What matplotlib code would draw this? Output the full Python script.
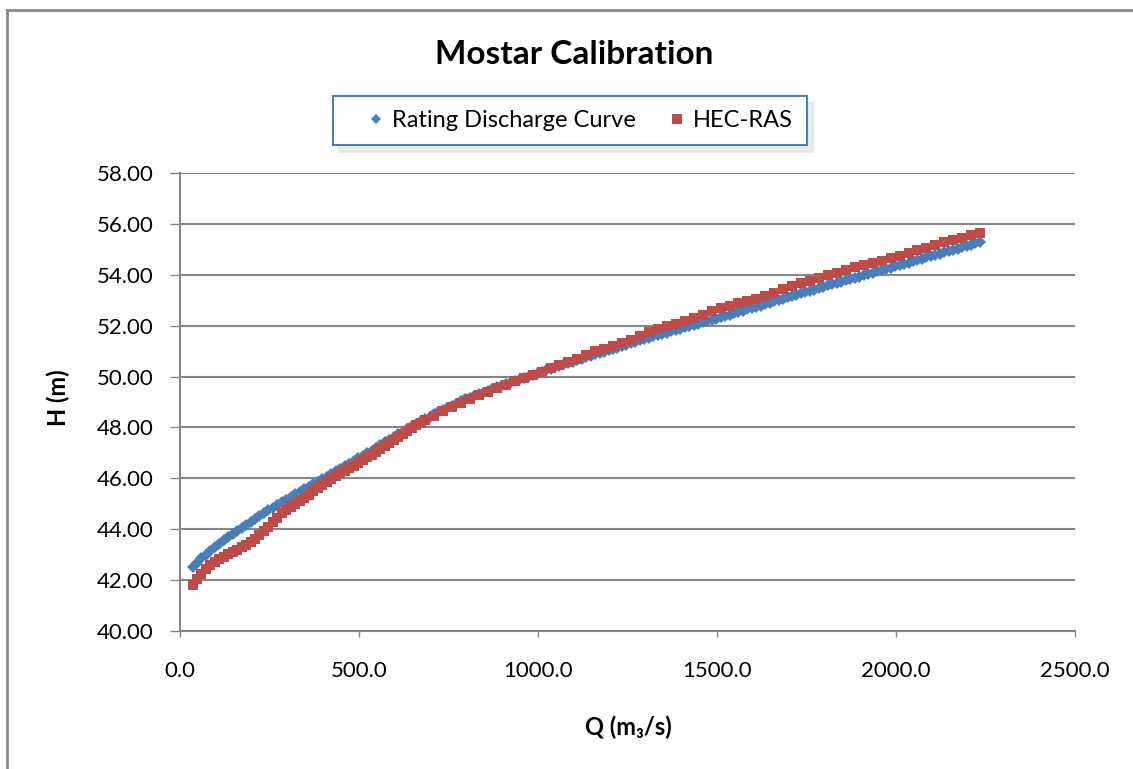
import matplotlib
matplotlib.use("Agg")
from matplotlib import pyplot as plt
from matplotlib.lines import Line2D

plt.rcParams['font.family'] = ['Lato', 'DejaVu Sans']

# rating discharge curve: Q (m3/s) and H (m)
q_rating = [35, 47, 60, 72, 85, 97, 110, 122, 135, 147, 160, 172, 185, 197, 210, 222, 235, 247, 260, 272,
            285, 297, 310, 322, 335, 347, 360, 372, 385, 397, 410, 422, 435, 447, 460, 472, 485, 497, 510, 522,
            535, 547, 560, 572, 585, 597, 610, 622, 635, 647, 660, 672, 685, 697, 710, 722, 735, 747, 760, 772,
            785, 797, 810, 822, 835, 847, 860, 872, 885, 897, 910, 922, 935, 947, 960, 972, 985, 997, 1010, 1022,
            1035, 1047, 1060, 1072, 1085, 1097, 1110, 1122, 1135, 1147, 1160, 1172, 1185, 1197, 1210, 1222, 1235, 1247, 1260, 1272,
            1285, 1297, 1310, 1322, 1335, 1347, 1360, 1372, 1385, 1397, 1410, 1422, 1435, 1447, 1460, 1472, 1485, 1497, 1510, 1522,
            1535, 1547, 1560, 1572, 1585, 1597, 1610, 1622, 1635, 1647, 1660, 1672, 1685, 1697, 1710, 1722, 1735, 1747, 1760, 1772,
            1785, 1797, 1810, 1822, 1835, 1847, 1860, 1872, 1885, 1897, 1910, 1922, 1935, 1947, 1960, 1972, 1985, 1997, 2010, 2022,
            2035, 2047, 2060, 2072, 2085, 2097, 2110, 2122, 2135, 2147, 2160, 2172, 2185, 2197, 2210, 2222, 2235]
h_rating = [42.53, 42.69, 42.85, 43.00, 43.15, 43.29, 43.43, 43.56, 43.69, 43.82, 43.94, 44.06, 44.18, 44.30, 44.41, 44.52, 44.63, 44.74, 44.85, 44.95,
            45.06, 45.16, 45.27, 45.37, 45.47, 45.57, 45.67, 45.76, 45.86, 45.96, 46.07, 46.17, 46.27, 46.37, 46.48, 46.58, 46.68, 46.78, 46.89, 46.99,
            47.09, 47.19, 47.30, 47.41, 47.52, 47.63, 47.74, 47.84, 47.95, 48.05, 48.14, 48.24, 48.34, 48.43, 48.52, 48.61, 48.69, 48.78, 48.86, 48.94,
            49.02, 49.10, 49.17, 49.24, 49.31, 49.37, 49.44, 49.50, 49.57, 49.63, 49.70, 49.76, 49.82, 49.88, 49.94, 50.00, 50.06, 50.12, 50.18, 50.24,
            50.30, 50.36, 50.42, 50.48, 50.54, 50.59, 50.65, 50.70, 50.76, 50.81, 50.87, 50.92, 50.98, 51.03, 51.09, 51.14, 51.20, 51.25, 51.31, 51.36,
            51.42, 51.47, 51.53, 51.58, 51.63, 51.68, 51.73, 51.78, 51.83, 51.88, 51.93, 51.98, 52.03, 52.08, 52.13, 52.18, 52.23, 52.28, 52.33, 52.38,
            52.43, 52.48, 52.54, 52.59, 52.64, 52.69, 52.74, 52.79, 52.85, 52.90, 52.95, 53.00, 53.06, 53.11, 53.16, 53.21, 53.27, 53.32, 53.37, 53.42,
            53.48, 53.53, 53.58, 53.63, 53.68, 53.73, 53.78, 53.83, 53.88, 53.93, 53.98, 54.03, 54.08, 54.13, 54.18, 54.23, 54.28, 54.33, 54.38, 54.43,
            54.48, 54.53, 54.58, 54.63, 54.68, 54.73, 54.78, 54.83, 54.88, 54.93, 54.98, 55.03, 55.08, 55.13, 55.18, 55.23, 55.28]

# HEC-RAS results: Q (m3/s) and H (m)
q_hecras = [35, 47, 60, 72, 85, 97, 110, 122, 135, 147, 160, 172, 185, 197, 210, 222, 235, 247, 260, 272,
            285, 297, 310, 322, 335, 347, 360, 372, 385, 397, 410, 422, 435, 447, 460, 472, 485, 497, 510, 522,
            535, 547, 560, 572, 585, 597, 610, 622, 635, 647, 660, 672, 685, 710, 735, 760,
            785, 810, 835, 860, 885, 910, 935, 960, 985, 1010, 1035, 1060, 1085, 1110, 1135,
            1160, 1185, 1210, 1235, 1260, 1285, 1310, 1335, 1360, 1385, 1410, 1435, 1460, 1485, 1510,
            1535, 1560, 1585, 1610, 1635, 1660, 1685, 1710, 1735, 1760, 1785, 1810, 1835, 1860, 1885,
            1910, 1935, 1960, 1985, 2010, 2035, 2060, 2085, 2110, 2135, 2160, 2185, 2210, 2235]
h_hecras = [41.80, 42.05, 42.25, 42.42, 42.58, 42.70, 42.82, 42.92, 43.02, 43.11, 43.20, 43.29, 43.38, 43.50, 43.62, 43.76, 43.92, 44.10, 44.28, 44.45,
            44.62, 44.74, 44.86, 44.98, 45.10, 45.23, 45.36, 45.49, 45.62, 45.74, 45.86, 45.97, 46.08, 46.19, 46.30, 46.40, 46.50, 46.60, 46.71, 46.82,
            46.93, 47.05, 47.16, 47.28, 47.40, 47.52, 47.63, 47.75, 47.86, 47.98, 48.10, 48.19, 48.28, 48.45, 48.63, 48.80,
            48.96, 49.12, 49.28, 49.41, 49.54, 49.67, 49.81, 49.93, 50.05, 50.19, 50.32, 50.44, 50.56, 50.70, 50.86,
            50.99, 51.09, 51.20, 51.32, 51.45, 51.60, 51.75, 51.88, 51.98, 52.08, 52.20, 52.32, 52.43, 52.56, 52.69,
            52.79, 52.88, 52.96, 53.06, 53.17, 53.30, 53.43, 53.55, 53.66, 53.76, 53.88, 53.98, 54.08, 54.18, 54.29,
            54.38, 54.47, 54.56, 54.65, 54.75, 54.86, 54.97, 55.07, 55.16, 55.27, 55.36, 55.44, 55.58, 55.64]

x_ticks = [0, 500, 1000, 1500, 2000, 2500]
y_ticks = [40, 42, 44, 46, 48, 50, 52, 54, 56, 58]

blue = '#4a7ebb'
red = '#be4b48'
grid_gray = '#868686'

W, H = 1133, 769
fig = plt.figure(figsize=(W / 100, H / 100), dpi=100)
fig.patch.set_facecolor('white')

# chart frame: only top and left edges are inside the crop
fig.add_artist(Line2D([7 / W, 7 / W], [0, 1 - 10 / H], color='#898989', lw=2))
fig.add_artist(Line2D([7 / W, 1], [1 - 10 / H, 1 - 10 / H], color='#898989', lw=2))

ax = fig.add_axes([180 / W, 1 - 631 / H, 895 / W, 458 / H])
ax.plot(q_rating, h_rating, linestyle='none', marker='D', markersize=6.5,
        color=blue, markeredgewidth=0, label='Rating Discharge Curve', zorder=3)
ax.plot(q_hecras, h_hecras, linestyle='none', marker='s', markersize=7.3,
        color=red, markeredgewidth=0, label='HEC-RAS', zorder=4)

ax.set_xlim(0, 2500)
ax.set_ylim(40, 58)
ax.set_xticks(x_ticks)
ax.set_yticks(y_ticks)
ax.set_xticklabels(['{:.1f}'.format(v) for v in x_ticks])
ax.set_yticklabels(['{:.2f}'.format(v) for v in y_ticks])
ax.tick_params(axis='both', labelsize=16, labelcolor='#000000', direction='out',
               color=grid_gray, width=1)
ax.tick_params(axis='x', length=4.5, pad=17)
ax.tick_params(axis='y', length=7, pad=12)

ax.yaxis.grid(True, color=grid_gray, linewidth=1.5)
ax.set_axisbelow(True)
for side in ['top', 'right']:
    ax.spines[side].set_visible(False)
for side in ['left', 'bottom']:
    ax.spines[side].set_color(grid_gray)
    ax.spines[side].set_linewidth(1.5)

fig.text(628 / W, 1 - 727 / H, 'Q (m\u2083/s)', ha='center', va='center',
         fontsize=17, fontweight='bold')
fig.text(58 / W, 1 - 398 / H, 'H (m)', ha='center', va='center', rotation=90,
         fontsize=17, fontweight='bold')
fig.text(574 / W, 1 - 55 / H, 'Mostar Calibration', ha='center', va='center',
         fontsize=24, fontweight='bold')

leg = ax.legend(loc='upper left', bbox_to_anchor=(333 / W, 1 - 96 / H),
                bbox_transform=fig.transFigure, ncol=2, fontsize=17,
                frameon=True, fancybox=False, shadow={'color': '0.86', 'ox': 4, 'oy': -5},
                borderpad=0.6, columnspacing=0.5, handletextpad=-0.55, handlelength=2.46,
                borderaxespad=0)
leg.get_frame().set_edgecolor(blue)
leg.get_frame().set_linewidth(1.5)
leg.legend_handles[0].set_markersize(5)
leg.legend_handles[1].set_markersize(6.5)

plt.savefig('out.png', dpi=100)
